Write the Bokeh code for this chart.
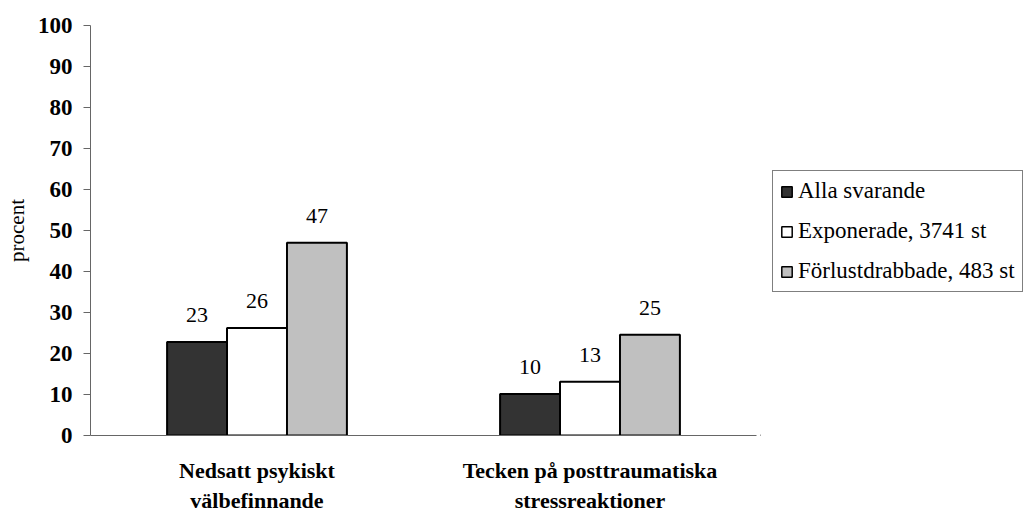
from bokeh.plotting import figure
from bokeh.layouts import row
from bokeh.models import ColumnDataSource, FactorRange, Legend, LegendItem, FixedTicker
from bokeh.transform import dodge
from bokeh.core.properties import value
from bokeh.embed import file_html
from bokeh.resources import INLINE

categories = ["Nedsatt psykiskt\nvälbefinnande", "Tecken på posttraumatiska\nstressreaktioner"]
series = ["Alla svarande", "Exponerade, 3741 st", "Förlustdrabbade, 483 st"]
alla = [22.8, 10.1]
exponerade = [26.2, 13.1]
forlust = [47.0, 24.6]
alla_labels = ["23", "10"]
exponerade_labels = ["26", "13"]
forlust_labels = ["47", "25"]
y_ticks = [0, 10, 20, 30, 40, 50, 60, 70, 80, 90, 100]

colors = ["#333333", "#ffffff", "#c0c0c0"]
FONT = "Liberation Serif"
QFONT = "'Liberation Serif'"

src = ColumnDataSource(dict(
    cat=categories,
    alla=alla, exponerade=exponerade, forlust=forlust,
    alla_l=alla_labels, exponerade_l=exponerade_labels, forlust_l=forlust_labels,
))

p = figure(x_range=FactorRange(*categories), y_range=(0, 100),
           width=760, height=515, output_backend="svg", toolbar_location=None,
           min_border_left=90, min_border_right=4, min_border_top=25, min_border_bottom=78)

offsets = [-0.18, 0.0, 0.18]
cols = ["alla", "exponerade", "forlust"]
for off, col, c in zip(offsets, cols, colors):
    p.vbar(x=dodge("cat", off, range=p.x_range), top=col, width=0.18, source=src,
           fill_color=c, line_color="black", line_width=2)
    p.text(x=dodge("cat", off, range=p.x_range), y=col, text=col + "_l", source=src,
           text_align="center", text_baseline="alphabetic", y_offset=-27,
           text_font=value(QFONT), text_font_size="22px", text_color="black")

p.grid.visible = False
p.outline_line_color = None

ya = p.yaxis[0]
ya.ticker = FixedTicker(ticks=y_ticks)
ya.minor_tick_line_color = None
ya.major_tick_in = 0
ya.major_tick_out = 7
ya.major_label_standoff = 11
ya.major_label_text_font = FONT
ya.major_label_text_font_style = "bold"
ya.major_label_text_font_size = "23px"
ya.major_label_text_color = "black"
ya.axis_line_color = "#666666"
ya.major_tick_line_color = "#666666"
ya.axis_label = "procent"
ya.axis_label_text_font = FONT
ya.axis_label_text_font_style = "normal"
ya.axis_label_text_font_size = "21px"
ya.axis_label_text_color = "black"
ya.axis_label_standoff = 6

xa = p.xaxis[0]
xa.major_tick_line_color = None
xa.minor_tick_line_color = None
xa.major_label_standoff = 16
xa.major_label_text_font = FONT
xa.major_label_text_font_style = "bold"
xa.major_label_text_font_size = "22px"
xa.major_label_text_color = "black"
xa.major_label_text_line_height = 1.2
xa.axis_line_color = "#666666"

# legend panel (separate figure so the legend is not clipped by the chart frame)
lg = figure(width=274, height=515, output_backend="svg", toolbar_location=None,
            x_axis_type=None, y_axis_type=None, x_range=(0, 1), y_range=(0, 1),
            min_border=0)
lg.grid.visible = False
lg.outline_line_color = None
dummy = ColumnDataSource(dict(x=[-5], top=[0]))
leg_r = [lg.vbar(x="x", top="top", width=0.01, source=dummy, fill_color=c,
                 line_color="black", line_width=1.5) for c in colors]
legend = Legend(items=[LegendItem(label=s, renderers=[r]) for s, r in zip(series, leg_r)],
                location=(12, 143))
legend.label_text_font = QFONT
legend.label_text_font_size = "23px"
legend.label_text_color = "black"
legend.label_height = 25
legend.glyph_height = 13
legend.glyph_width = 13
legend.label_standoff = 5
legend.spacing = 14
legend.padding = 7
legend.margin = 0
legend.border_line_color = "black"
legend.border_line_width = 1
legend.background_fill_alpha = 1
lg.add_layout(legend)

layout = row(p, lg)
open("out.html", "w").write(file_html(layout, INLINE))
